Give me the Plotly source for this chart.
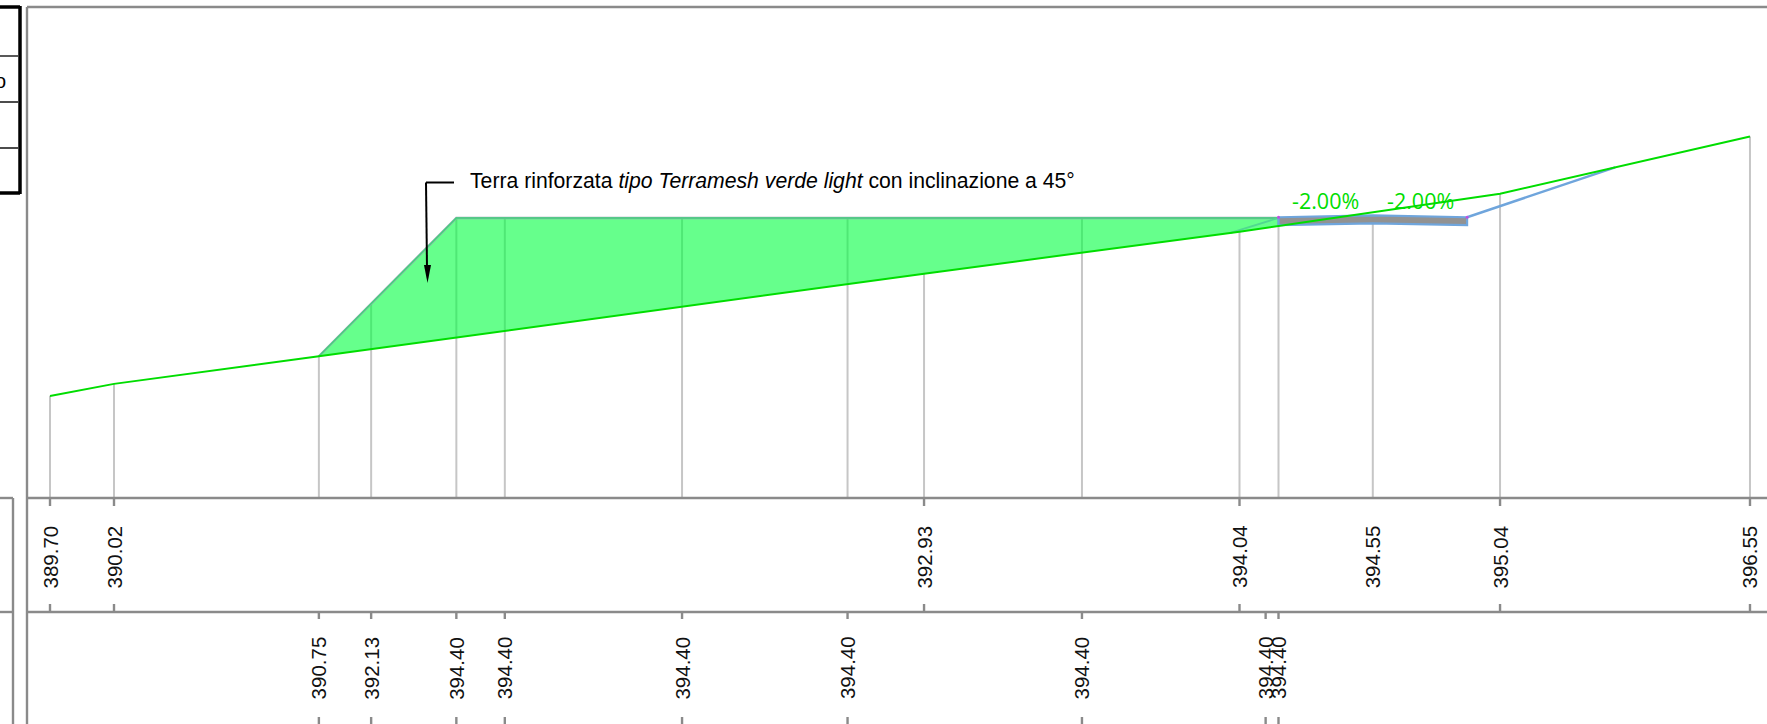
import plotly.graph_objects as go

W, H = 1767, 724
SCALE = 37.87      # pixels per metre
X0_PX, Y0_PX = 50, 396   # pixel of first station / first elevation

# ---- data ----
terrain_st = [0.00, 1.69, 7.10, 23.08, 31.41, 34.93, 38.29, 44.89]
terrain_el = [389.70, 390.02, 390.75, 392.93, 394.04, 394.55, 395.04, 396.55]
terrain_labels = ["389.70", "390.02", "392.93", "394.04", "394.55", "395.04", "396.55"]
terrain_label_st = [0.00, 1.69, 23.08, 31.41, 34.93, 38.29, 44.89]
terrain_tick_st = [0.00, 1.69, 23.08, 31.41, 38.29, 44.89]

project_st = [7.10, 8.48, 10.73, 12.01, 16.69, 21.06, 27.25, 32.10, 32.44]
project_el = [390.75, 392.13, 394.40, 394.40, 394.40, 394.40, 394.40, 394.40, 394.40]
project_labels = ["390.75", "392.13", "394.40", "394.40", "394.40", "394.40", "394.40", "394.40", "394.40"]

fill_lower_st = [32.44, 31.41, 23.08, 7.10]
fill_lower_el = [394.19, 394.04, 392.93, 390.75]
toe_st = [31.17, 32.44]
toe_el = [394.01, 394.40]

road_top_st = [32.44, 34.93, 37.42]
road_top_el = [394.42, 394.47, 394.42]
road_bot_st = [37.42, 34.93, 32.44]
road_bot_el = [394.21, 394.26, 394.21]
cut_st = [37.42, 41.33]
cut_el = [394.42, 395.74]

grid_st = [0.00, 1.69, 7.10, 8.48, 10.73, 12.01, 16.69, 21.06, 23.08, 27.25, 31.41, 32.44, 34.93, 38.29, 44.89]
grid_top = [389.70, 390.02, 390.75, 392.13, 394.40, 394.40, 394.40, 394.40, 392.93, 394.40, 394.04, 394.40, 394.45, 395.04, 396.55]
DATUM = 387.03

slope_labels = ["-2.00%", "-2.00%"]
note = "Terra rinforzata <i>tipo Terramesh verde light</i> con inclinazione a 45°"

GREEN = "#00dd00"
BLUE = "#6fa5dc"
FRAME = "#8a8a8a"

def px(x): return x / W
def py(y): return 1 - y / H
def st_of(x): return (x - X0_PX) / SCALE
def el_of(y): return 389.70 + (Y0_PX - y) / SCALE

fig = go.Figure()

gx, gy = [], []
for s, t in zip(grid_st, grid_top):
    gx += [s, s, None]
    gy += [DATUM, t, None]
fig.add_trace(go.Scatter(x=gx, y=gy, mode="lines", line=dict(color="#c6c6c6", width=2)))

fig.add_trace(go.Scatter(
    x=project_st + fill_lower_st, y=project_el + fill_lower_el, mode="lines",
    fill="toself", fillcolor="rgba(0,255,64,0.6)", line=dict(color="rgba(0,0,0,0)", width=0)))
fig.add_trace(go.Scatter(x=project_st, y=project_el, mode="lines", line=dict(color="#9aa6b4", width=2.4)))
fig.add_trace(go.Scatter(x=project_st, y=project_el, mode="lines", line=dict(color="rgba(60,215,120,0.95)", width=1.4)))
fig.add_trace(go.Scatter(x=toe_st, y=toe_el, mode="lines", line=dict(color="#50d890", width=1.8)))

fig.add_trace(go.Scatter(
    x=road_top_st + road_bot_st + road_top_st[:1], y=road_top_el + road_bot_el + road_top_el[:1],
    mode="lines", fill="toself", fillcolor="#929292", line=dict(color=BLUE, width=2.2)))
fig.add_trace(go.Scatter(x=cut_st, y=cut_el, mode="lines", line=dict(color=BLUE, width=2.4)))
fig.add_trace(go.Scatter(x=[road_top_st[0], road_top_st[-1]], y=[road_top_el[0], road_top_el[-1]],
                         mode="markers", marker=dict(color="#c050e0", size=3)))
fig.add_trace(go.Scatter(x=terrain_st, y=terrain_el, mode="lines", line=dict(color=GREEN, width=2)))

shapes = []
def seg(x0, y0, x1, y1, color=FRAME, width=2.4):
    shapes.append(dict(type="line", xref="paper", yref="paper", x0=px(x0), x1=px(x1),
                       y0=py(y0), y1=py(y1), line=dict(color=color, width=width)))

# main frame
seg(27, 7, W, 7)
seg(27, 7, 27, H)
seg(27, 498, W, 498)
seg(27, 612, W, 612)
# left side table
seg(0, 498, 13, 498)
seg(0, 612, 13, 612)
seg(13, 498, 13, H)
# top-left black box
seg(0, 7, 20, 7, "black", 3.5)
seg(20, 6, 20, 194, "black", 3.5)
seg(0, 193, 20, 193, "black", 3.5)
seg(0, 56, 18, 56, "#222", 1.5)
seg(0, 102, 18, 102, "#111", 1.5)
seg(0, 148, 18, 148, "#111", 1.5)

def to_px(s): return X0_PX + s * SCALE
for s in terrain_tick_st:
    seg(to_px(s), 498, to_px(s), 506)
    seg(to_px(s), 604, to_px(s), 612)
for s in project_st:
    seg(to_px(s), 612, to_px(s), 619)
    seg(to_px(s), 717, to_px(s), H)

# leader with arrow
seg(454, 182.5, 426, 182.5, "black", 2)
seg(426, 182.5, 427, 268, "black", 2)
shapes.append(dict(type="path", xref="paper", yref="paper",
                   path=f"M {px(424)} {py(265)} L {px(431)} {py(265)} L {px(427.5)} {py(283)} Z",
                   fillcolor="black", line=dict(width=0)))

ann = []
FONT = "Liberation Sans"
for s, t in zip(terrain_label_st, terrain_labels):
    ann.append(dict(x=st_of(to_px(s) - 0.5), xref="x", y=py(557), yref="paper", yanchor="middle", text=t,
                    textangle=-90, showarrow=False, font=dict(family=FONT, size=20.5, color="#111")))
for s, t in zip(project_st, project_labels):
    ann.append(dict(x=st_of(to_px(s) - 0.5), xref="x", y=py(668), yref="paper", yanchor="middle", text=t,
                    textangle=-90, showarrow=False, font=dict(family=FONT, size=20.5, color="#111")))
ann.append(dict(x=px(468), xref="paper", y=py(181.5), yref="paper", yanchor="middle", text=note,
                xanchor="left", showarrow=False, font=dict(family=FONT, size=21.2, color="black")))
for xp, t in zip([1325.5, 1420], slope_labels):
    ann.append(dict(x=px(xp), xref="paper", xanchor="center", y=py(200.5), yref="paper", yanchor="middle", text=t,
                    showarrow=False, font=dict(family="Open Sans", size=21.5, color=GREEN)))
ann.append(dict(x=px(0), xref="paper", y=py(81), yref="paper", yanchor="middle", text="o", showarrow=False,
                xanchor="center", font=dict(family=FONT, size=20, color="black")))

fig.update_layout(
    width=W, height=H, margin=dict(l=0, r=0, t=0, b=0), showlegend=False,
    plot_bgcolor="white", paper_bgcolor="white", shapes=shapes, annotations=ann,
    xaxis=dict(range=[st_of(0), st_of(W)], visible=False, fixedrange=True),
    yaxis=dict(range=[el_of(H), el_of(0)], visible=False, fixedrange=True),
)
fig.write_html("out.html", config=dict(displayModeBar=False),
               post_script="document.body.style.margin='0';document.body.style.overflow='hidden';")
